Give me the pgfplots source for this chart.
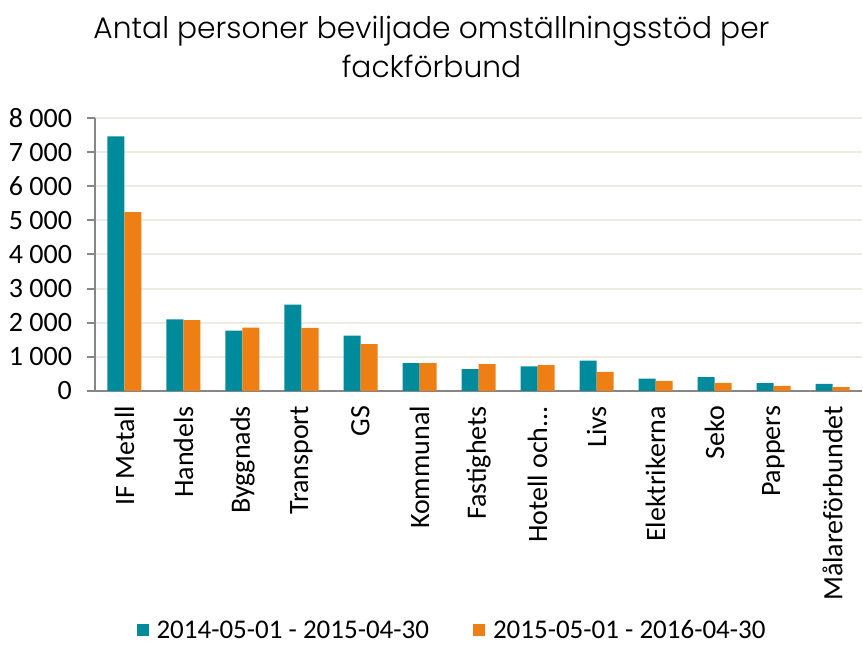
\documentclass[border=0pt]{standalone}
\usepackage{pgfplots}
\pgfplotsset{compat=1.18}
\usepackage{fontspec}
\setmainfont{Carlito}
\newfontfamily\titlefont{Poppins Light}
\definecolor{teal1}{RGB}{0,139,156}
\definecolor{orng}{RGB}{238,127,20}
\definecolor{gridc}{RGB}{238,236,225}
\definecolor{axc}{RGB}{135,135,135}
\begin{document}
\begin{tikzpicture}
\begin{axis}[
  scale only axis,
  width=383.5pt, height=136.5pt,
  xmin=-0.5, xmax=12.5, ymin=0, ymax=8000,
  ybar=0pt, bar width=8.5pt,
  xtick=data,
  xticklabels={IF Metall,Handels,Byggnads,Transport,GS,Kommunal,Fastighets,Hotell och.{}.{}.,Livs,Elektrikerna,Seko,Pappers,Målareförbundet},
  xticklabel style={rotate=90, anchor=east, font=\fontsize{14}{16}\selectfont},
  ytick={0,1000,2000,3000,4000,5000,6000,7000,8000},
  yticklabels={0,1 000,2 000,3 000,4 000,5 000,6 000,7 000,8 000},
  yticklabel style={font=\fontsize{14}{16}\selectfont, xshift=-4pt},
  /pgf/number format/assume math mode=true,
  axis x line*=bottom, axis y line*=left,
  x axis line style={axc, line width=1pt, -},
  y axis line style={axc, line width=1pt, -},
  x tick style={draw=none},
  y tick style={axc, line width=1pt},
  tick align=outside, major tick length=4pt,
  ymajorgrids, grid style={gridc, line width=1pt},
  legend style={at={(0.4668,-0.88)}, anchor=center, draw=none, legend columns=2,
    font=\fontsize{13.5}{15}\selectfont,
    /tikz/every odd column/.append style={column sep=2pt},
    /tikz/every even column/.append style={column sep=20pt}},
  legend image code/.code={\fill[#1] (2pt,-2.5pt) rectangle (8pt,3.5pt);},
]
\addplot[fill=teal1, draw=none] coordinates {(0,7460) (1,2100) (2,1770) (3,2530) (4,1620) (5,820) (6,640) (7,720) (8,890) (9,360) (10,410) (11,230) (12,210)};
\addplot[fill=orng, draw=none] coordinates {(0,5240) (1,2080) (2,1855) (3,1850) (4,1370) (5,820) (6,790) (7,760) (8,560) (9,300) (10,240) (11,150) (12,110)};
\legend{2014-05-01 - 2015-04-30, 2015-05-01 - 2016-04-30}
\end{axis}
\node[align=center, font=\titlefont\fontsize{14.85}{19.5}\selectfont] at (168.25pt,172pt) {Antal personer beviljade omställningsstöd per\\fackförbund};
\pgfresetboundingbox
\path[use as bounding box] (-47.5pt,-127.5pt) rectangle (384pt,195.5pt);
\end{tikzpicture}
\end{document}
